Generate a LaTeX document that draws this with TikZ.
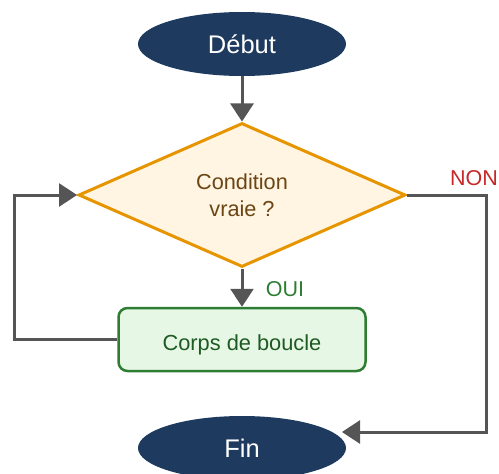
\documentclass[tikz,border=0pt]{standalone}
\usepackage{fontspec}
\setmainfont{Liberation Sans}
\usetikzlibrary{shapes.geometric,arrows.meta}
\definecolor{navy}{HTML}{1F3A5F}
\definecolor{gold}{HTML}{E69500}
\definecolor{cream}{HTML}{FFF5E2}
\definecolor{brownt}{HTML}{6B4513}
\definecolor{leaf}{HTML}{2E7D32}
\definecolor{mint}{HTML}{E6F7E6}
\definecolor{darkleaf}{HTML}{1E5A22}
\definecolor{wire}{HTML}{555555}
\definecolor{noncol}{HTML}{C62828}
\tikzset{
  terminal/.style={ellipse, fill=navy, draw=none, minimum width=208pt, minimum height=64pt,
    inner sep=0pt, text=white, font=\fontsize{25.5}{30}\selectfont},
  test/.style={diamond, aspect=2.27, draw=gold, line width=3pt, fill=cream,
    minimum width=327pt, minimum height=144pt, inner sep=0pt, text=brownt,
    align=center, font=\fontsize{21.7}{27}\selectfont},
  action/.style={rectangle, rounded corners=9pt, draw=leaf, line width=2.5pt, fill=mint,
    minimum width=247pt, minimum height=63pt, inner ysep=0pt, text height=21pt, text depth=0pt,
    text=darkleaf, font=\fontsize{21.8}{26}\selectfont},
  arr/.style={draw=wire, line width=3pt, -{Triangle[length=18pt,width=23pt]}},
  tag/.style={font=\fontsize{21.5}{26}\selectfont},
}
\begin{document}
\begin{tikzpicture}[x=1pt,y=-1pt]
  \useasboundingbox (0,0) rectangle (499,474);
  \node[terminal] (start) at (242,44) {Début};
  \node[test] (cond) at (242,195) {Condition\\vraie ?};
  \node[action] (body) at (242,339.5) {Corps de boucle};
  \node[terminal] (stop) at (242,448) {Fin};
  \coordinate (loop) at (14,195);
  \coordinate (rail) at (486,432);
  \coordinate (finin) at (342,432);
  \draw[arr] (start) -- (cond);
  \draw[arr] (cond) -- (body);
  \draw[arr] (body.west) -| (loop) -- (cond.west);
  \draw[arr] (cond.east) -| (rail) -- (finin);
  \node[tag, text=leaf] (yes) at (285,289) {OUI};
  \node[tag, text=noncol] (no) at (474,178) {NON};
\end{tikzpicture}
\end{document}
